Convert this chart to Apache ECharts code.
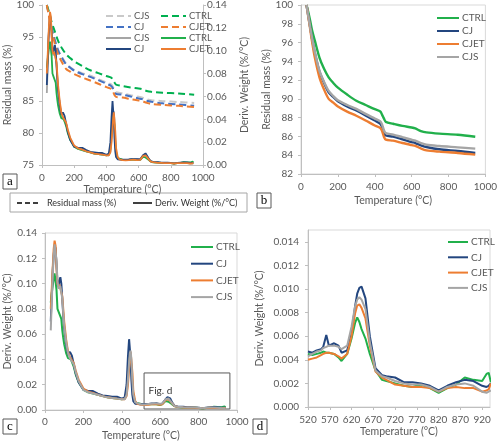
<!DOCTYPE html>
<html><head><meta charset="utf-8">
<script src="https://cdn.jsdelivr.net/npm/echarts@6/dist/echarts.min.js"></script>
<style>html,body{margin:0;padding:0;background:#fff}#c{width:500px;height:444px}</style>
</head><body><div id="c"></div>
<script>
// ---------- Residual mass (TG) ----------
const massTemp = [30,40,50,60,75,100,125,150,175,200,250,300,350,400,430,440,450,460,500,550,600,620,650,680,750,850,945];
const massCTRL = [100,99.2,98.3,97.3,96.2,94.4,93.2,92.3,91.7,91.2,90.46,89.8,89.35,88.9,88.65,88.3,87.9,87.55,87.35,87.12,86.95,86.85,86.57,86.43,86.3,86.18,85.97];
const massCJ   = [100,98.8,97.6,96.4,94.9,92.9,91.7,90.7,90.2,89.75,89.2,88.76,88.25,87.7,87.35,87.0,86.4,86.1,85.98,85.7,85.4,85.3,85.05,84.88,84.63,84.45,84.24];
const massCJET = [100,98.7,97.4,96.1,94.4,92.3,91.0,90.0,89.6,89.2,88.65,88.2,87.7,87.17,86.9,86.55,85.95,85.65,85.55,85.3,85.08,85.0,84.72,84.52,84.38,84.24,84.06];
const massCJS  = [100,98.8,97.6,96.5,95.0,93.0,91.8,90.85,90.3,89.85,89.35,88.94,88.4,87.9,87.6,87.25,86.65,86.36,86.2,85.92,85.65,85.55,85.3,85.12,84.98,84.84,84.7];

// ---------- Derivative weight (DTG) ----------
const dtgTemp = [30,35,40,45,50,55,60,65,70,75,80,85,90,95,100,
  110,120,130,135,140,150,160,175,
  200,225,250,275,300,325,350,375,400,
  415,425,432,438,442,446,450,455,460,470,480,500,
  520,530,540,550,555,562,568,580,590,597,
  610,620,628,633,638,643,652,662,675,690,
  700,720,740,760,780,800,820,840,860,880,
  900,920,930,935,940];
const dtgCTRL = [0.085,0.092,0.098,0.104,0.108,0.107,0.095,0.080,0.078,0.077,0.077,0.072,0.063,0.057,0.052,
  0.045,0.041,0.040,0.040,0.039,0.034,0.028,0.022,
  0.016,0.014,0.013,0.012,0.011,0.010,0.0095,0.009,0.0085,
  0.009,0.014,0.028,0.040,0.045,0.044,0.035,0.020,0.011,0.006,0.0052,0.0047,
  0.0045,0.0044,0.0045,0.0046,0.0047,0.0046,0.0046,0.0045,0.0042,0.0039,
  0.0045,0.0058,0.0071,0.0076,0.0072,0.0066,0.0058,0.0045,0.0031,0.0023,
  0.0022,0.0020,0.0018,0.0017,0.0019,0.0016,0.0012,0.0016,0.0019,0.0025,
  0.0023,0.0022,0.0028,0.0029,0.0021];
const dtgCJ = [0.070,0.090,0.110,0.122,0.130,0.128,0.115,0.100,0.098,0.102,0.105,0.100,0.088,0.075,0.065,
  0.052,0.044,0.046,0.047,0.043,0.036,0.029,0.022,
  0.016,0.015,0.015,0.013,0.0115,0.011,0.0105,0.0105,0.009,
  0.010,0.020,0.042,0.056,0.055,0.040,0.024,0.012,0.007,0.005,0.0048,0.0046,
  0.0047,0.0046,0.0048,0.0049,0.0051,0.0061,0.0052,0.0054,0.0052,0.0046,
  0.0048,0.0062,0.0085,0.0096,0.0101,0.0102,0.0092,0.0060,0.0033,0.0027,
  0.0026,0.0025,0.0021,0.0021,0.0020,0.0018,0.0014,0.0018,0.0021,0.0023,
  0.0022,0.0018,0.0017,0.0018,0.0020];
const dtgCJET = [0.080,0.095,0.112,0.127,0.134,0.130,0.112,0.100,0.097,0.099,0.100,0.098,0.090,0.080,0.070,
  0.056,0.046,0.042,0.042,0.041,0.037,0.031,0.024,
  0.017,0.0145,0.0135,0.012,0.011,0.010,0.0095,0.009,0.0085,
  0.0085,0.011,0.020,0.032,0.041,0.046,0.045,0.030,0.015,0.007,0.005,0.0042,
  0.0040,0.0041,0.0042,0.0044,0.0045,0.0046,0.0046,0.0045,0.0043,0.0041,
  0.0045,0.0060,0.0079,0.0086,0.0087,0.0084,0.0075,0.0052,0.0030,0.0025,
  0.0023,0.0019,0.0018,0.0017,0.0017,0.0016,0.0013,0.0016,0.0017,0.0016,
  0.0016,0.0013,0.0014,0.0015,0.0020];
const dtgCJS = [0.063,0.085,0.105,0.122,0.131,0.132,0.118,0.102,0.096,0.097,0.098,0.097,0.088,0.077,0.067,
  0.054,0.045,0.041,0.041,0.040,0.036,0.030,0.023,
  0.016,0.014,0.013,0.012,0.011,0.010,0.0095,0.009,0.0085,
  0.0085,0.012,0.024,0.038,0.045,0.047,0.040,0.024,0.012,0.006,0.005,0.0044,
  0.0043,0.0045,0.0047,0.0048,0.0050,0.0051,0.0052,0.0052,0.0051,0.0049,
  0.0052,0.0068,0.0085,0.0091,0.0093,0.0091,0.0083,0.0055,0.0031,0.0026,
  0.0025,0.0022,0.0020,0.0019,0.0019,0.0017,0.0013,0.0017,0.0019,0.0020,
  0.0018,0.0013,0.0012,0.0013,0.0014];

const names = ['CTRL','CJ','CJET','CJS'];
const colors = {CTRL:'#21b04b', CJ:'#23467f', CJET:'#ed7d31', CJS:'#a5a5a5'};
const dashColors = {CTRL:'#00b050', CJ:'#4472c4', CJET:'#ed7d31', CJS:'#c9c9c9'};
const massData = {CTRL:massCTRL, CJ:massCJ, CJET:massCJET, CJS:massCJS};
const dtgData = {CTRL:dtgCTRL, CJ:dtgCJ, CJET:dtgCJET, CJS:dtgCJS};
const zip = (xs, ys) => xs.map((x,i)=>[x, ys[i]]);

const FONT = 'Lato';
const txt = {color:'#595959', fontSize:10, fontFamily:FONT};
const axLine = {lineStyle:{color:'#bfbfbf'}};
const axTick = {length:3, lineStyle:{color:'#bfbfbf'}};
function xAx(grid, min, max, interval, gap, margin){
  return {type:'value', gridIndex:grid, min, max, interval, axisLine:axLine, axisTick:axTick,
    axisLabel:Object.assign({margin, formatter:v=>String(v), showMaxLabel: (max-min)%interval===0}, txt),
    splitLine:{show:false}, name:'Temperature (°C)', nameLocation:'middle', nameGap:gap,
    nameTextStyle:{color:'#595959', fontSize:10.5, fontFamily:FONT}};
}
function yAx(grid, min, max, interval, dec, name, gap, margin, pos, showMax){
  return {type:'value', gridIndex:grid, min, max, interval, position:pos||'left',
    axisLine:Object.assign({show:true}, axLine), axisTick:Object.assign({show:true}, axTick),
    axisLabel:Object.assign({margin, showMaxLabel:showMax!==false, formatter:v=>v.toFixed(dec)}, txt),
    splitLine:{show:false}, name, nameLocation:'middle', nameGap:gap,
    nameTextStyle:{color:'#595959', fontSize:10.5, fontFamily:FONT}};
}

const series = [];
// Panel a: dashed mass (left axis)
['CJS','CJ','CTRL','CJET'].forEach(n=>series.push({name:n+'|am', type:'line', xAxisIndex:0, yAxisIndex:0,
  data:zip(massTemp, massData[n]), symbol:'none', smooth:0.3, color:dashColors[n],
  lineStyle:{width:2, type:[7,4], color:dashColors[n]}}));
// Panel a: solid DTG (right axis)
['CJS','CTRL','CJ','CJET'].forEach(n=>series.push({name:n+'|ad', type:'line', xAxisIndex:0, yAxisIndex:1,
  data:zip(dtgTemp, dtgData[n]), symbol:'none', color:colors[n], lineStyle:{width:1.8, color:colors[n]}}));
// Panel b
names.forEach(n=>series.push({name:n+'|b', type:'line', xAxisIndex:1, yAxisIndex:2,
  data:zip(massTemp, massData[n]), symbol:'none', smooth:0.3, color:colors[n], lineStyle:{width:2.4, color:colors[n]}}));
// Panel c
names.forEach((n,i)=>{
  const s = {name:n+'|c', type:'line', xAxisIndex:2, yAxisIndex:3,
    data:zip(dtgTemp, dtgData[n]), symbol:'none', color:colors[n], lineStyle:{width:2, color:colors[n]}};
  if(i===0){ s.markArea = {silent:true, itemStyle:{color:'rgba(0,0,0,0)', borderColor:'#595959', borderWidth:1},
    label:{show:true, position:'insideLeft', distance:5, formatter:'Fig. d', color:'#333', fontSize:10, fontFamily:FONT},
    data:[[{xAxis:516, yAxis:0.0008},{xAxis:963, yAxis:0.0293}]]}; }
  series.push(s);
});
// Panel d
names.forEach(n=>series.push({name:n+'|d', type:'line', xAxisIndex:3, yAxisIndex:4,
  data:zip(dtgTemp, dtgData[n]).filter(p=>p[0]>=520), symbol:'none', color:colors[n], lineStyle:{width:2, color:colors[n]}}));

const lg = (left, top, data, iw, ih, gap, fs) => ({orient:'vertical', left, top, data, itemWidth:iw, itemHeight:ih, itemGap:gap,
  selectedMode:false, itemStyle:{opacity:0, borderWidth:0},
  formatter:n=>n.split('|')[0], textStyle:{color:'#595959', fontSize:fs, fontFamily:FONT, lineHeight:ih, padding:[0,0,0,-2]}});

function panelLabel(x, y, ch){
  return [{type:'rect', shape:{x:x, y:y, width:14, height:15}, style:{fill:'#fff', stroke:'#595959', lineWidth:1}},
          {type:'text', x:x+7, y:y+7.5, style:{text:ch, fontFamily:'Liberation Serif', fontSize:13, fill:'#000', align:'center', verticalAlign:'middle'}}];
}

const option = {
  animation:false,
  backgroundColor:'#fff',
  grid:[
    {left:42, top:4, width:161, height:161},
    {left:301, top:4, width:188, height:170, show:true, borderColor:'#d9d9d9', borderWidth:1},
    {left:45, top:233, width:192, height:177, show:true, borderColor:'#d9d9d9', borderWidth:1},
    {left:308, top:230, width:182, height:177, show:true, borderColor:'#d9d9d9', borderWidth:1}
  ],
  xAxis:[
    xAx(0, 0, 1000, 200, 16, 8),
    xAx(1, 0, 1000, 200, 21, 8),
    xAx(2, 0, 1000, 200, 20, 7),
    xAx(3, 520, 938, 50, 18, 8)
  ],
  yAxis:[
    yAx(0, 75, 100, 5, 0, 'Residual mass (%)', 28, 8, 'left'),
    yAx(0, 0, 0.14, 0.02, 2, 'Deriv. Weight (%/°C)', 36, 4, 'right'),
    yAx(1, 82, 100, 2, 0, 'Residual mass (%)', 28, 8, 'left'),
    yAx(2, 0, 0.14, 0.02, 2, 'Deriv. Weight (%/°C)', 30, 8, 'left'),
    yAx(3, 0, 0.015, 0.002, 3, 'Deriv. Weight (%/°C)', 43, 9, 'left', false)
  ],
  legend:[
    lg(100, 6, ['CJS|am','CJ|am','CJS|ad','CJ|ad'], 25, 9, 1, 9.5),
    lg(155, 6, ['CTRL|am','CJET|am','CTRL|ad','CJET|ad'], 25, 9, 1, 9.5),
    lg(431, 8, ['CTRL|b','CJ|b','CJET|b','CJS|b'], 22, 10, 3, 10),
    lg(185, 237, ['CTRL|c','CJ|c','CJET|c','CJS|c'], 22, 10, 6.7, 10),
    lg(442, 232, ['CTRL|d','CJ|d','CJET|d','CJS|d'], 20, 10, 5.3, 10)
  ],
  graphic:[
    ...panelLabel(3, 174, 'a'),
    ...panelLabel(257, 193, 'b'),
    ...panelLabel(3, 419, 'c'),
    ...panelLabel(253, 419, 'd'),
    {type:'rect', shape:{x:10, y:193, width:237, height:19}, style:{fill:'#fff', stroke:'#a6a6a6', lineWidth:1}},
    {type:'line', shape:{x1:17, y1:203, x2:40, y2:203}, style:{stroke:'#000', lineWidth:1.5, lineDash:[5,3]}},
    {type:'text', x:47, y:203, style:{text:'Residual mass (%)', fontFamily:FONT, fontSize:9, fill:'#333', verticalAlign:'middle'}},
    {type:'line', shape:{x1:133, y1:203, x2:152, y2:203}, style:{stroke:'#000', lineWidth:1.5}},
    {type:'text', x:155, y:203, style:{text:'Deriv. Weight (%/°C)', fontFamily:FONT, fontSize:9, fill:'#333', verticalAlign:'middle'}}
  ],
  series
};
const chart = echarts.init(document.getElementById('c'));
chart.setOption(option);
</script></body></html>
